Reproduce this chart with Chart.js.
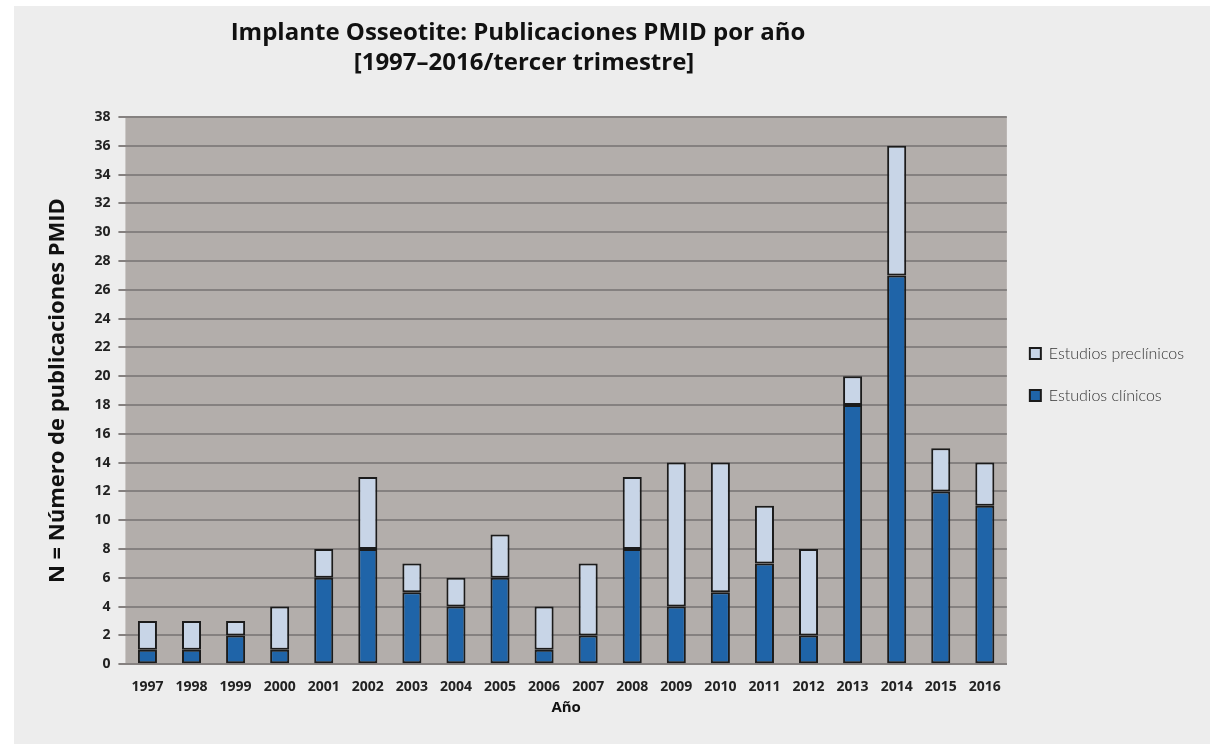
<!DOCTYPE html>
<html>
<head>
<meta charset="utf-8">
<script src="https://cdn.jsdelivr.net/npm/chart.js@4"></script>
<style>
  html, body { margin: 0; padding: 0; background: #ffffff; }
  #panel { position: absolute; left: 14px; top: 6px; width: 1196px; height: 738px; background: #ededed; }
  #wrap { position: absolute; left: 0; top: 0; width: 1216px; height: 744px; }
</style>
</head>
<body>
<div id="panel"></div>
<div id="wrap"><canvas id="c" width="1216" height="744"></canvas></div>
<script>
const years = ["1997","1998","1999","2000","2001","2002","2003","2004","2005","2006","2007","2008","2009","2010","2011","2012","2013","2014","2015","2016"];
const clinicos = [1,1,2,1,6,8,5,4,6,1,2,8,4,5,7,2,18,27,12,11];
const preclinicos = [2,2,1,3,2,5,2,2,3,3,5,5,10,9,4,6,2,9,3,3];
const titleLines = ["Implante Osseotite: Publicaciones PMID por año", "[1997–2016/tercer trimestre]"];
const yTitle = "N = Número de publicaciones PMID";
const xTitle = "Año";

const plotBg = {
  id: 'plotBg',
  beforeDraw(chart) {
    const {ctx, chartArea: a} = chart;
    ctx.save();
    ctx.fillStyle = '#b3aeab';
    ctx.fillRect(a.left, a.top, a.right - a.left, a.bottom - a.top);
    ctx.restore();
  }
};
const legendShift = {
  id: 'legendShift',
  afterLayout(chart) {
    const lg = chart.legend;
    if (lg) { lg.top -= 16; lg.bottom -= 16; lg.left -= 3; lg.right -= 3; }
  }
};
const titlePlugin = {
  id: 'titlePlugin',
  afterDraw(chart) {
    const ctx = chart.ctx;
    ctx.save();
    ctx.fillStyle = '#111';
    ctx.font = 'bold 24px "Open Sans"';
    ctx.textAlign = 'center';
    ctx.textBaseline = 'middle';
    ctx.fillText(titleLines[0], 518, 33);
    ctx.fillText(titleLines[1], 524, 63);
    ctx.restore();
  }
};

new Chart(document.getElementById('c'), {
  type: 'bar',
  data: {
    labels: years,
    datasets: [
      { label: 'Estudios clínicos', data: clinicos, backgroundColor: '#1f64a8', borderColor: '#1b1b1b', borderWidth: 2, borderSkipped: false },
      { label: 'Estudios preclínicos', data: preclinicos, backgroundColor: '#c8d5e7', borderColor: '#1b1b1b', borderWidth: 2, borderSkipped: false }
    ]
  },
  options: {
    responsive: false,
    animation: false,
    devicePixelRatio: 1,
    layout: { padding: { top: 117, left: 45, right: 19, bottom: 27 } },
    datasets: { bar: { categoryPercentage: 0.9, barPercentage: 0.48 } },
    plugins: {
      title: { display: false },
      tooltip: { enabled: false },
      legend: {
        position: 'right',
        fullSize: false,
        reverse: true,
        labels: {
          color: '#333',
          font: { family: 'Lato', size: 16, weight: '300' },
          boxWidth: 11, boxHeight: 11,
          padding: 26,
          useBorderRadius: false
        }
      }
    },
    scales: {
      x: {
        stacked: true,
        grid: { display: false, drawTicks: false },
        border: { display: true, color: '#858180', width: 2 },
        ticks: { color: '#222', font: { family: 'Open Sans', size: 14, weight: 'bold' }, padding: 14, maxRotation: 0 },
        title: { display: true, text: xTitle, color: '#111', font: { family: 'Open Sans', size: 15, weight: 'bold' }, padding: { top: -10, bottom: 0 } }
      },
      y: {
        stacked: true,
        min: 0, max: 38,
        ticks: { stepSize: 2, color: '#222', font: { family: 'Open Sans', size: 14, weight: 'bold' }, padding: 8 },
        grid: { color: '#858180', lineWidth: 2, tickLength: 7, drawTicks: true },
        border: { display: false },
        title: { display: true, text: yTitle, color: '#111', font: { family: 'Open Sans', size: 22, weight: 'bold' }, padding: { top: 0, bottom: 15 } }
      }
    }
  },
  plugins: [plotBg, legendShift, titlePlugin]
});
</script>
</body>
</html>
